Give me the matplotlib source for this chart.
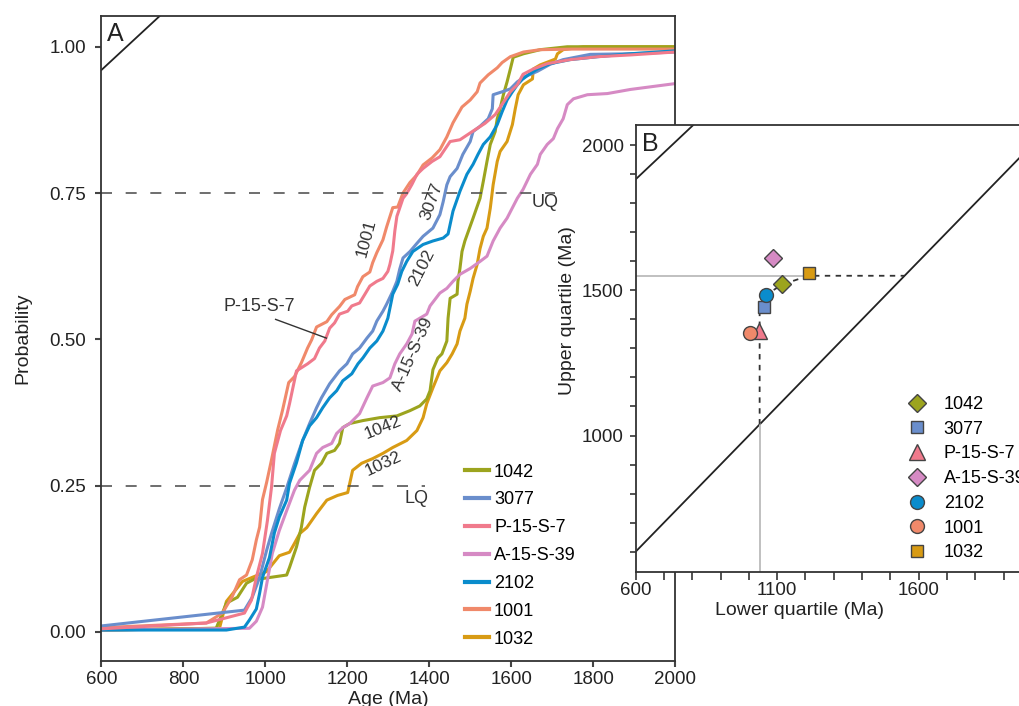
import matplotlib.pyplot as plt
from matplotlib.lines import Line2D

plt.rcParams['font.family'] = ['Liberation Sans', 'DejaVu Sans']

# ---- Panel A: cumulative probability curves (age Ma, probability) ----
age_1001 = [600, 856, 895, 919, 937, 954, 968, 978, 986, 993,
            1003, 1015, 1030, 1042, 1057, 1071, 1088, 1103, 1113, 1125,
            1150, 1162, 1181, 1194, 1218, 1225, 1238, 1255, 1262, 1272,
            1287, 1296, 1311, 1323, 1336, 1353, 1370, 1385, 1407, 1426,
            1443, 1458, 1480, 1500, 1517, 1524, 1544, 1566, 1578, 1598,
            1630, 1671, 1750, 2000]
prob_1001 = [0.007, 0.015, 0.032, 0.060, 0.089, 0.097, 0.123, 0.157, 0.179, 0.226,
             0.255, 0.294, 0.345, 0.379, 0.426, 0.436, 0.460, 0.485, 0.499, 0.521,
             0.530, 0.542, 0.556, 0.568, 0.576, 0.590, 0.607, 0.615, 0.631, 0.648,
             0.670, 0.692, 0.725, 0.726, 0.750, 0.768, 0.781, 0.798, 0.810, 0.824,
             0.846, 0.870, 0.897, 0.909, 0.923, 0.938, 0.952, 0.964, 0.973, 0.983,
             0.991, 0.995, 0.996, 0.996]

age_p15s7 = [600, 856, 949, 966, 978, 993, 1005, 1015, 1022, 1037,
             1052, 1059, 1076, 1103, 1120, 1132, 1145, 1157, 1169, 1181,
             1201, 1211, 1230, 1243, 1255, 1272, 1287, 1299, 1304, 1311,
             1316, 1321, 1336, 1345, 1358, 1370, 1385, 1407, 1426, 1451,
             1475, 1505, 1536, 1561, 1585, 1598, 1615, 1629, 1654, 1688,
             1744, 1811, 1891, 2000]
prob_p15s7 = [0.005, 0.015, 0.032, 0.054, 0.093, 0.134, 0.190, 0.247, 0.305, 0.344,
              0.369, 0.390, 0.446, 0.458, 0.467, 0.485, 0.497, 0.519, 0.528, 0.543,
              0.548, 0.557, 0.562, 0.577, 0.591, 0.599, 0.604, 0.616, 0.628, 0.651,
              0.685, 0.710, 0.741, 0.749, 0.765, 0.782, 0.792, 0.804, 0.812, 0.838,
              0.841, 0.855, 0.869, 0.884, 0.909, 0.923, 0.935, 0.953, 0.962, 0.971,
              0.978, 0.983, 0.986, 0.991]

age_3077 = [600, 949, 968, 986, 1003, 1015, 1034, 1052, 1071, 1091,
            1108, 1125, 1137, 1157, 1181, 1199, 1213, 1230, 1248, 1262,
            1272, 1287, 1296, 1311, 1321, 1328, 1336, 1353, 1370, 1385,
            1409, 1426, 1434, 1443, 1451, 1468, 1482, 1500, 1507, 1524,
            1544, 1554, 1556, 1578, 1598, 1615, 1634, 1664, 1695, 1727,
            1793, 1891, 2000]
prob_3077 = [0.010, 0.037, 0.059, 0.093, 0.139, 0.168, 0.210, 0.246, 0.287, 0.327,
             0.356, 0.383, 0.400, 0.424, 0.446, 0.458, 0.475, 0.485, 0.502, 0.514,
             0.531, 0.548, 0.560, 0.582, 0.599, 0.620, 0.639, 0.650, 0.664, 0.676,
             0.690, 0.713, 0.735, 0.764, 0.778, 0.792, 0.816, 0.838, 0.855, 0.864,
             0.877, 0.894, 0.918, 0.923, 0.928, 0.940, 0.949, 0.958, 0.970, 0.978,
             0.987, 0.988, 0.991]

age_2102 = [600, 905, 949, 961, 978, 986, 993, 1010, 1022, 1034,
            1052, 1059, 1076, 1091, 1108, 1125, 1140, 1157, 1174, 1189,
            1211, 1226, 1238, 1255, 1272, 1287, 1299, 1311, 1323, 1333,
            1345, 1360, 1385, 1409, 1434, 1446, 1458, 1475, 1492, 1507,
            1519, 1532, 1549, 1566, 1578, 1590, 1603, 1615, 1627, 1642,
            1664, 1695, 1744, 1811, 1891, 2000]
prob_2102 = [0.003, 0.003, 0.008, 0.020, 0.039, 0.066, 0.093, 0.127, 0.169, 0.196,
             0.225, 0.254, 0.289, 0.327, 0.352, 0.366, 0.383, 0.400, 0.412, 0.429,
             0.441, 0.458, 0.468, 0.485, 0.497, 0.514, 0.536, 0.577, 0.594, 0.616,
             0.633, 0.650, 0.662, 0.668, 0.673, 0.680, 0.719, 0.753, 0.782, 0.799,
             0.816, 0.833, 0.846, 0.867, 0.889, 0.909, 0.923, 0.935, 0.944, 0.952,
             0.962, 0.971, 0.978, 0.983, 0.988, 0.993]

age_a15s39 = [600, 961, 978, 993, 1005, 1017, 1034, 1052, 1071, 1084,
              1108, 1125, 1140, 1162, 1174, 1189, 1206, 1230, 1248, 1262,
              1287, 1304, 1316, 1328, 1345, 1358, 1365, 1377, 1394, 1402,
              1426, 1443, 1458, 1475, 1500, 1524, 1541, 1556, 1573, 1590,
              1615, 1629, 1647, 1664, 1671, 1688, 1703, 1713, 1727, 1737,
              1752, 1786, 1835, 1891, 2000]
prob_a15s39 = [0.003, 0.006, 0.018, 0.042, 0.088, 0.134, 0.173, 0.207, 0.242, 0.259,
               0.276, 0.305, 0.315, 0.322, 0.339, 0.349, 0.356, 0.373, 0.400, 0.420,
               0.426, 0.434, 0.458, 0.475, 0.492, 0.509, 0.531, 0.536, 0.543, 0.557,
               0.579, 0.587, 0.599, 0.611, 0.621, 0.633, 0.642, 0.668, 0.690, 0.707,
               0.741, 0.756, 0.782, 0.799, 0.816, 0.833, 0.843, 0.860, 0.877, 0.901,
               0.911, 0.918, 0.920, 0.927, 0.937]

age_1042 = [600, 880, 888, 905, 932, 954, 973, 993, 1052, 1059,
            1076, 1088, 1096, 1108, 1120, 1137, 1150, 1169, 1181, 1189,
            1206, 1238, 1279, 1321, 1353, 1377, 1394, 1402, 1409, 1421,
            1431, 1443, 1446, 1451, 1468, 1470, 1475, 1480, 1487, 1507,
            1524, 1532, 1541, 1549, 1561, 1566, 1573, 1581, 1590, 1598,
            1605, 1630, 1671, 1737, 2000]
prob_1042 = [0.003, 0.006, 0.020, 0.049, 0.059, 0.083, 0.090, 0.091, 0.097, 0.110,
             0.145, 0.179, 0.213, 0.247, 0.276, 0.288, 0.305, 0.310, 0.322, 0.349,
             0.356, 0.361, 0.366, 0.369, 0.378, 0.386, 0.398, 0.412, 0.448, 0.468,
             0.475, 0.497, 0.536, 0.570, 0.577, 0.599, 0.621, 0.650, 0.668, 0.707,
             0.741, 0.770, 0.804, 0.833, 0.855, 0.877, 0.894, 0.918, 0.940, 0.962,
             0.982, 0.988, 0.995, 1.0, 1.0]

age_1032 = [600, 888, 905, 920, 944, 968, 1003, 1034, 1059, 1071,
            1084, 1101, 1125, 1150, 1176, 1201, 1213, 1235, 1262, 1287,
            1311, 1345, 1370, 1385, 1394, 1409, 1419, 1426, 1443, 1456,
            1468, 1475, 1487, 1492, 1500, 1507, 1517, 1524, 1532, 1541,
            1549, 1556, 1566, 1573, 1590, 1603, 1610, 1617, 1630, 1652,
            1654, 1671, 1708, 1713, 1727, 1776, 2000]
prob_1032 = [0.003, 0.006, 0.052, 0.065, 0.086, 0.093, 0.103, 0.130, 0.136, 0.151,
             0.168, 0.178, 0.202, 0.225, 0.233, 0.238, 0.276, 0.288, 0.296, 0.305,
             0.315, 0.327, 0.344, 0.366, 0.390, 0.417, 0.434, 0.446, 0.460, 0.475,
             0.492, 0.514, 0.536, 0.560, 0.582, 0.604, 0.628, 0.655, 0.676, 0.690,
             0.724, 0.764, 0.804, 0.821, 0.838, 0.867, 0.894, 0.918, 0.935, 0.945,
             0.962, 0.969, 0.979, 0.988, 0.995, 1.0, 1.0]

samples = ['1042', '3077', 'P-15-S-7', 'A-15-S-39', '2102', '1001', '1032']
colors = {
    '1042': '#9ca41e',
    '3077': '#6a8ecc',
    'P-15-S-7': '#f07a8c',
    'A-15-S-39': '#d68ac4',
    '2102': '#0a8ccc',
    '1001': '#f0896a',
    '1032': '#d89b14',
}
curves = {
    '1042': (age_1042, prob_1042),
    '3077': (age_3077, prob_3077),
    'P-15-S-7': (age_p15s7, prob_p15s7),
    'A-15-S-39': (age_a15s39, prob_a15s39),
    '2102': (age_2102, prob_2102),
    '1001': (age_1001, prob_1001),
    '1032': (age_1032, prob_1032),
}
draw_order = ['1032', '1042', 'A-15-S-39', '1001', '3077', '2102', 'P-15-S-7']

# in-plot curve labels: text, age, prob, rotation
label_text = ['1001', '3077', '2102', 'A-15-S-39', '1042', '1032']
label_age = [1247, 1406, 1381, 1361, 1287, 1287]
label_prob = [0.673, 0.736, 0.622, 0.475, 0.349, 0.287]
label_rot = [75, 70, 63, 66, 22, 25]

# ---- Panel B: quartile-quartile plot ----
lower_q = [1118, 1053, 1034, 1086, 1060, 1004, 1211]
upper_q = [1520, 1443, 1361, 1612, 1484, 1354, 1558]
markers = ['D', 's', '^', 'D', 'o', 'o', 's']
msizes = [9, 9, 12, 9, 10, 10, 9]
combined_lq = 1038
combined_uq = 1550
path_x = [1038, 1038, 1053, 1060, 1118, 1211, 1550]
path_y = [1038, 1430, 1443, 1484, 1520, 1550, 1550]

fig = plt.figure(figsize=(10.2, 7.06), dpi=100)

# ---------------- Panel A ----------------
ax = fig.add_axes([0.0995, 0.0637, 0.5623, 0.914])
for s in draw_order:
    a, p = curves[s]
    ax.plot(a, p, color=colors[s], lw=2.2, solid_joinstyle='round')

dash = (0, (6.6, 8.2))
ax.plot([600, 1708], [0.75, 0.75], color='#555555', lw=1.2, ls=dash)
ax.plot([600, 1390], [0.25, 0.25], color='#555555', lw=1.2, ls=dash)
ax.text(1683, 0.734, 'UQ', fontsize=13, color='#333333', ha='center', va='center')
ax.text(1370, 0.228, 'LQ', fontsize=13, color='#333333', ha='center', va='center')

for t, a, p, r in zip(label_text, label_age, label_prob, label_rot):
    ax.text(a, p, t, fontsize=12.5, color='#333333', rotation=r,
            ha='center', va='center', rotation_mode='anchor')
ax.text(986, 0.556, 'P-15-S-7', fontsize=13, color='#333333', ha='center', va='center')
ax.plot([1025, 1149], [0.534, 0.502], color='#333333', lw=1)

ax.set_xlim(600, 2000)
ax.set_ylim(-0.05, 1.053)
ax.set_xticks(range(600, 2001, 200))
ax.set_yticks([0, 0.25, 0.5, 0.75, 1.0])
ax.set_yticklabels(['0.00', '0.25', '0.50', '0.75', '1.00'])
ax.tick_params(axis='both', direction='out', length=4, width=1.5,
               colors='#444444', labelsize=13.5, labelcolor='#222222')
ax.tick_params(axis='y', pad=7)
ax.tick_params(axis='x', pad=3)
for sp in ax.spines.values():
    sp.set_color('#333333')
    sp.set_linewidth(1.3)
ax.set_xlabel('Age (Ma)', fontsize=14, color='#222222', labelpad=2)
ax.set_ylabel('Probability', fontsize=14, color='#222222', labelpad=13)

# corner tab
ax.plot([0, 0.102], [0.916, 1.0], transform=ax.transAxes, color='#222222', lw=1.3)
ax.text(0.0248, 0.9717, 'A', transform=ax.transAxes, fontsize=18,
        color='#222222', ha='center', va='center')

handles = [Line2D([], [], color=colors[s], lw=3) for s in samples]
ax.legend(handles, samples, loc='upper left', bbox_to_anchor=(0.634, 0.306),
          frameon=False, fontsize=13, handlelength=1.3, handletextpad=0.3,
          labelspacing=0.6, borderpad=0, borderaxespad=0)

# ---------------- Panel B ----------------
bx = fig.add_axes([0.6232, 0.1898, 0.3885, 0.6331])
bx.set_facecolor('white')
bx.set_xlim(600, 2000)
bx.set_ylim(530, 2069)

bx.plot([600, 2000], [600, 2000], color='#222222', lw=1.3)
bx.plot([combined_lq, combined_lq], [530, combined_lq], color='#bbbbbb', lw=1.3)
bx.plot([600, 1211], [combined_uq, combined_uq], color='#bbbbbb', lw=1.3)
bx.plot(path_x, path_y, color='#333333', lw=1.3, ls=(0, (3, 3)))

for s, lq, uq, m, ms in zip(samples, lower_q, upper_q, markers, msizes):
    bx.plot(lq, uq, marker=m, ms=ms, color=colors[s], mec='#444444', mew=1,
            ls='none', zorder=5, label=s)

bx.set_xticks([600, 1100, 1600])
bx.set_xticks(range(600, 2001, 100), minor=True)
bx.set_yticks([1000, 1500, 2000])
bx.set_yticks(range(600, 2001, 100), minor=True)
bx.tick_params(axis='both', which='both', direction='out', width=1.3,
               colors='#444444', labelsize=13.5, labelcolor='#222222')
bx.tick_params(axis='x', which='both', length=6, pad=1.5)
bx.tick_params(axis='y', which='both', length=4.5, pad=4)
for sp in bx.spines.values():
    sp.set_color('#333333')
    sp.set_linewidth(1.3)
bx.text(0.4146, -0.0866, 'Lower quartile (Ma)', transform=bx.transAxes,
        fontsize=14, color='#222222', ha='center', va='center')
bx.text(-0.173, 0.586, 'Upper quartile (Ma)', transform=bx.transAxes,
        fontsize=14, color='#222222', ha='center', va='center', rotation=90)

bx.plot([0, 0.1453], [0.8785, 1.0], transform=bx.transAxes, color='#222222', lw=1.3)
bx.text(0.036, 0.957, 'B', transform=bx.transAxes, fontsize=18,
        color='#222222', ha='center', va='center')

bx.legend(loc='upper left', bbox_to_anchor=(0.682, 0.394), frameon=False,
          fontsize=13, handlelength=1.2, handletextpad=0.9, labelspacing=0.43,
          borderpad=0, borderaxespad=0, numpoints=1)

fig.savefig('out.png', dpi=100)
